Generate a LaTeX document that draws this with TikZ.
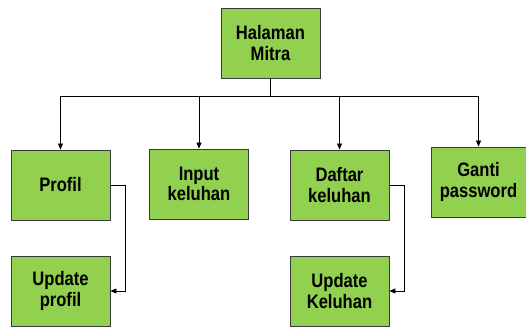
\documentclass[tikz,border=0pt]{standalone}
\usepackage{fontspec}
\setmainfont{Liberation Sans}
\newfontfamily\boxfont[FakeStretch=0.85]{Liberation Sans}
\usetikzlibrary{arrows.meta}
\definecolor{boxgreen}{HTML}{92D050}
\definecolor{boxline}{HTML}{3A3A3A}
\begin{document}
\begin{tikzpicture}[x=1pt,y=-1pt,
  menubox/.style={draw=boxline,line width=0.9pt,fill=boxgreen,minimum width=99pt,minimum height=70pt,
    inner sep=0pt,align=center,font=\boxfont\fontsize{19.5}{20.5}\selectfont\bfseries},
  link/.style={draw=black,line width=0.8pt},
  arr/.style={link,-{Triangle[length=6pt,width=5pt]}}]
\useasboundingbox (0,0) rectangle (526,327);
% menu boxes
\node[menubox] (mitra) at (270.5,43) {Halaman\\Mitra};
\node[menubox] (profil) at (60.5,185) {Profil};
\node[menubox] (upprofil) at (60.5,291) {Update\\profil};
\node[menubox] (input) at (199,184) {Input\\keluhan};
\node[menubox] (daftar) at (339.5,185) {Daftar\\keluhan};
\node[menubox] (upkeluhan) at (339.5,291) {Update\\Keluhan};
\node[menubox,minimum width=95pt] (ganti) at (478.5,182) {Ganti\\password};
% tree connectors
\coordinate (bus) at (270.5,96);
\draw[link] (mitra.south) -- (bus);
\draw[arr] (bus) -| (profil.north);
\draw[arr] (bus) -| (input.north);
\draw[arr] (bus) -| (daftar.north);
\draw[arr] (bus) -| (ganti.north);
% sub-menu connectors
\draw[arr] (profil.east) -- ++(15,0) |- (upprofil.east);
\draw[arr] (daftar.east) -- ++(15,0) |- (upkeluhan.east);
\end{tikzpicture}
\end{document}
